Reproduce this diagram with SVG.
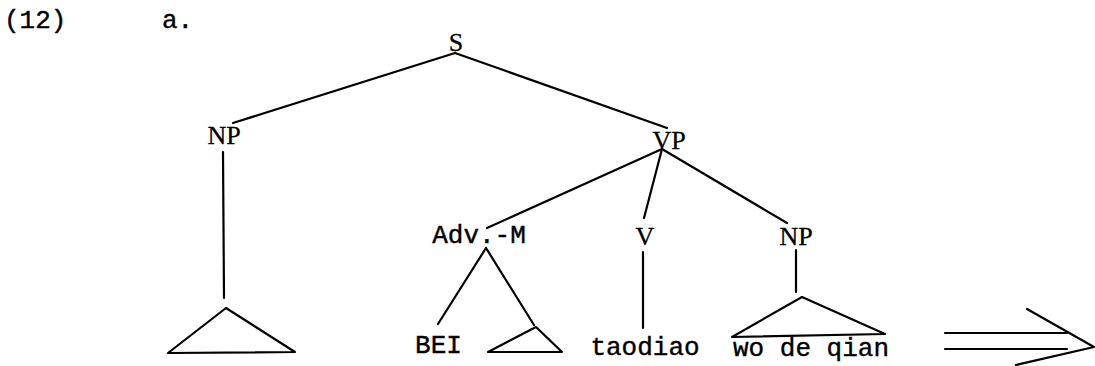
<svg xmlns="http://www.w3.org/2000/svg" width="1095" height="366" viewBox="0 0 1095 366">
<style>
.mono{font-family:"Liberation Mono","Courier New",monospace;font-size:26px;fill:#000;stroke:#000;stroke-width:0.4}
.ser{font-family:"Liberation Serif","Times New Roman",serif;font-size:26px;fill:#000;stroke:#000;stroke-width:0.3;text-anchor:middle}
.ln{stroke:#000;stroke-width:2.2;fill:none;stroke-linecap:round;stroke-linejoin:round}
</style>
<rect width="1095" height="366" fill="#fff"/>
<g id="label">
<text class="mono" x="4" y="28">(12)</text>
<text class="mono" x="162" y="28">a.</text>
</g>
<g id="S"><text class="ser" x="456" y="51">S</text></g>
<g id="NP1"><text class="ser" x="224" y="144">NP</text></g>
<g id="VP"><text class="ser" x="669" y="149">VP</text></g>
<g id="AdvM"><text class="mono" x="479" y="243" text-anchor="middle">Adv.-M</text></g>
<g id="V"><text class="ser" x="645" y="245">V</text></g>
<g id="NP2"><text class="ser" x="796" y="245">NP</text></g>
<g id="tri1"><path class="ln" d="M226,308 L168,353 L295,352 Z"/></g>
<g id="BEI"><text class="mono" x="438.5" y="353" text-anchor="middle">BEI</text></g>
<g id="tri2"><path class="ln" d="M536,327 L488,352 L562,352 Z"/></g>
<g id="taodiao"><text class="mono" x="645" y="355" text-anchor="middle">taodiao</text></g>
<g id="tri3"><path class="ln" d="M802,297 L732,337 L885,334 Z"/></g>
<g id="woDeQian"><text class="mono" x="811" y="356" text-anchor="middle">wo de qian</text></g>
<g id="connectors">
<path class="ln" d="M455,53 L233,123"/>
<path class="ln" d="M455,53 L667,128"/>
<path class="ln" d="M662,149 L487,228"/>
<path class="ln" d="M662,149 L644,218"/>
<path class="ln" d="M662,149 L787,223"/>
<path class="ln" d="M223,152 L224,298"/>
<path class="ln" d="M486,248 L438,324"/>
<path class="ln" d="M486,248 L534,325"/>
<path class="ln" d="M643,252 L643,328"/>
<path class="ln" d="M796,250 L796,292"/>
</g>
<g id="arrow">
<path class="ln" d="M945,333 L1067,333"/>
<path class="ln" d="M945,349 L1067,349"/>
<path class="ln" d="M1027,309 L1094,347 L1016,365"/>
</g>
</svg>
